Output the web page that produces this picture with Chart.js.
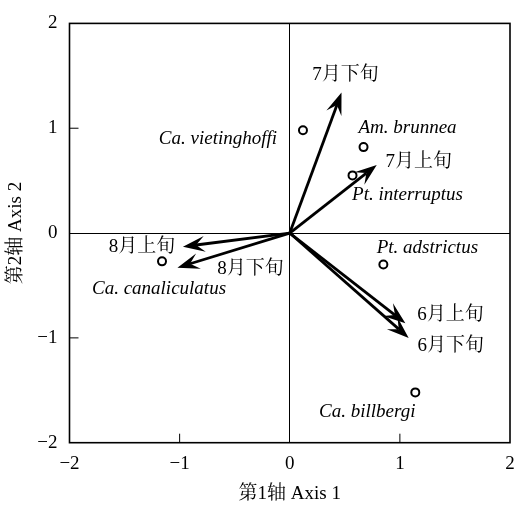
<!DOCTYPE html>
<html><head><meta charset="utf-8">
<script src="https://cdn.jsdelivr.net/npm/chart.js@4/dist/chart.umd.min.js"></script>
<style>html,body{margin:0;padding:0;background:#fff}</style>
</head><body>
<canvas id="c" width="531" height="508"></canvas>
<script>
// ---- data ----
const speciesNames = ['Ca. vietinghoffi','Am. brunnea','Pt. interruptus','Pt. adstrictus','Ca. canaliculatus','Ca. billbergi'];
const speciesX = [0.12, 0.67, 0.57, 0.85, -1.16, 1.14];
const speciesY = [0.98, 0.82, 0.55, -0.30, -0.27, -1.52];
const periodNames = ['6月上旬','6月下旬','7月上旬','7月下旬','8月上旬','8月下旬'];
const periodX = [1.05, 1.08, 0.79, 0.47, -0.97, -1.02];
const periodY = [-0.86, -1.00, 0.65, 1.34, -0.13, -0.33];
const tickValues = [-2, -1, 0, 1, 2];
const tickLabels = ['\u22122', '\u22121', '0', '1', '2'];

// ---- layout / style (pixel offsets for labels, text centre relative to mark) ----
const speciesLabelOffsets = [[-85, 9], [44, -19], [55, 20], [44, -16], [-3, 28], [-48, 20]];
const periodLabelOffsets = [[45, -8], [42, 8], [42, -3], [4, -18], [-41, 0], [73, 1]];
const FONT = "'Liberation Serif', 'Noto Serif CJK SC', 'Noto Sans CJK SC', serif";
const FS = 19;

const overlay = {
  id: 'overlay',
  afterDatasetsDraw(chart) {
    const {ctx, chartArea: a, scales: {x, y}} = chart;
    ctx.save();
    // frame
    ctx.strokeStyle = '#000';
    ctx.lineWidth = 1.6;
    ctx.strokeRect(a.left, a.top, a.right - a.left, a.bottom - a.top);
    // inward ticks
    ctx.lineWidth = 1;
    tickValues.forEach(v => {
      if (v === -2 || v === 2 || v === 0) return;
      const px = x.getPixelForValue(v), py = y.getPixelForValue(v);
      ctx.beginPath(); ctx.moveTo(px, a.bottom); ctx.lineTo(px, a.bottom - 9); ctx.stroke();
      ctx.beginPath(); ctx.moveTo(a.left, py); ctx.lineTo(a.left + 9, py); ctx.stroke();
    });
    // arrows
    const ox = x.getPixelForValue(0), oy = y.getPixelForValue(0);
    periodX.forEach((vx, i) => {
      const tx = x.getPixelForValue(vx), ty = y.getPixelForValue(periodY[i]);
      const ang = Math.atan2(ty - oy, tx - ox);
      const L = 22, W = 8, N = 0.6 * L;
      const cos = Math.cos(ang), sin = Math.sin(ang);
      const P = (back, side) => [tx - back * cos - side * sin, ty - back * sin + side * cos];
      ctx.lineWidth = 2.8;
      ctx.lineCap = 'butt';
      ctx.beginPath();
      ctx.moveTo(ox, oy);
      const nk = P(N, 0);
      ctx.lineTo(nk[0], nk[1]);
      ctx.stroke();
      ctx.beginPath();
      ctx.moveTo(tx, ty);
      let p = P(L, W); ctx.lineTo(p[0], p[1]);
      ctx.lineTo(nk[0], nk[1]);
      p = P(L, -W); ctx.lineTo(p[0], p[1]);
      ctx.closePath();
      ctx.fillStyle = '#000';
      ctx.fill();
      // label
      ctx.font = FS + 'px ' + FONT;
      ctx.textAlign = 'center';
      ctx.textBaseline = 'middle';
      ctx.fillText(periodNames[i], tx + periodLabelOffsets[i][0], ty + periodLabelOffsets[i][1]);
    });
    // species labels
    ctx.font = 'italic ' + FS + 'px ' + FONT;
    ctx.textAlign = 'center';
    ctx.textBaseline = 'middle';
    speciesX.forEach((vx, i) => {
      const px = x.getPixelForValue(vx), py = y.getPixelForValue(speciesY[i]);
      ctx.fillText(speciesNames[i], px + speciesLabelOffsets[i][0], py + speciesLabelOffsets[i][1]);
    });
    ctx.restore();
  }
};

const zeroGrid = c => (c.tick && c.tick.value === 0) ? '#000' : 'rgba(0,0,0,0)';

new Chart(document.getElementById('c'), {
  type: 'scatter',
  data: {
    datasets: [{
      data: speciesX.map((vx, i) => ({x: vx, y: speciesY[i]})),
      pointRadius: 4,
      pointHoverRadius: 4,
      pointBorderWidth: 2,
      borderColor: '#000',
      backgroundColor: '#fff'
    }]
  },
  options: {
    responsive: false,
    animation: false,
    events: [],
    layout: {padding: {top: 19, right: 21, left: 0, bottom: 0}},
    plugins: {legend: {display: false}, tooltip: {enabled: false}},
    scales: {
      x: {
        type: 'linear', min: -2, max: 2,
        afterBuildTicks(s) { s.ticks = tickValues.map(v => ({value: v})); },
        afterFit(s) { s.height = 65.3; },
        ticks: {padding: 10, color: '#000', font: {family: FONT, size: FS}, maxRotation: 0,
          callback: (v, i) => tickLabels[i]},
        grid: {drawTicks: false, color: zeroGrid, lineWidth: 1},
        border: {display: false},
        title: {display: true, text: '第1轴 Axis 1', color: '#000', font: {family: FONT, size: FS}, padding: {top: 0, bottom: 3}}
      },
      y: {
        type: 'linear', min: -2, max: 2,
        afterBuildTicks(s) { s.ticks = tickValues.map(v => ({value: v})); },
        afterFit(s) { s.width = 69.5; },
        ticks: {padding: 12, color: '#000', font: {family: FONT, size: FS},
          callback: (v, i) => tickLabels[i]},
        grid: {drawTicks: false, color: zeroGrid, lineWidth: 1},
        border: {display: false},
        title: {display: true, text: '第2轴 Axis 2', color: '#000', font: {family: FONT, size: FS}, padding: {top: 5, bottom: 0}}
      }
    }
  },
  plugins: [overlay]
});
</script>
</body></html>
